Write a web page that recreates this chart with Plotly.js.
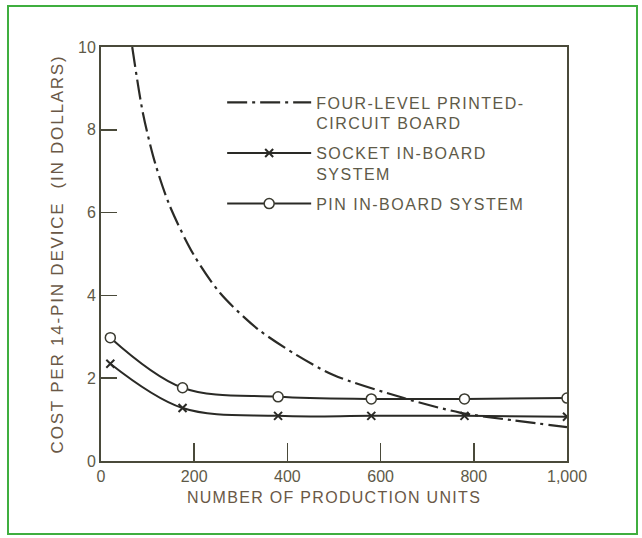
<!DOCTYPE html>
<html>
<head>
<meta charset="utf-8">
<script src="https://cdn.plot.ly/plotly-3.0.1.min.js"></script>
<style>
  html, body { margin: 0; padding: 0; background: #ffffff; }
  #frame { position: absolute; left: 7px; top: 5px; width: 631px; height: 530px; border: 2px solid #3fae3f; box-sizing: border-box; pointer-events: none; z-index: 5; }
  #chart { position: absolute; left: 0; top: 0; width: 642px; height: 538px; }
  .xtitle { letter-spacing: 1.3px; }
  .ytitle { letter-spacing: 1.8px; }
  .legendtext { letter-spacing: 1.5px; }
</style>
</head>
<body>
<div id="chart"></div>
<div id="frame"></div>
<script>
// Data
const pcbUnits   = [67, 90, 116, 148, 198, 256, 335, 421, 500, 650, 770, 886, 1000];
const pcbCost    = [10, 8.4, 7.2, 6.15, 5.0, 4.05, 3.2, 2.55, 2.07, 1.52, 1.17, 0.98, 0.82];

const socketUnits = [20, 175, 380, 580, 780, 1000];
const socketCost  = [2.35, 1.28, 1.09, 1.09, 1.09, 1.07];

const pinUnits = [20, 175, 380, 580, 780, 1000];
const pinCost  = [2.98, 1.77, 1.55, 1.50, 1.50, 1.52];

const xTickVals = [0, 200, 400, 600, 800, 1000];
const xTickText = ["0", "200", "400", "600", "800", "1,000"];
const yTickVals = [0, 2, 4, 6, 8, 10];

const seriesNames = [
  "FOUR-LEVEL PRINTED-<br>CIRCUIT BOARD",
  "SOCKET IN-BOARD<br>SYSTEM",
  "PIN IN-BOARD SYSTEM"
];

const ink = "#2a2a26";
const axisInk = "#4a4a3a";
const labelInk = "#5e5a48";
const titleInk = "#6a5846";

const traces = [
  {
    x: pcbUnits, y: pcbCost, name: seriesNames[0], mode: "lines",
    line: { color: ink, width: 2.2, shape: "spline", smoothing: 0.8, dash: "20px,5px,3px,5px" },
    legendgroup: "a"
  },
  {
    x: socketUnits, y: socketCost, name: seriesNames[1], mode: "lines+markers",
    line: { color: ink, width: 2, shape: "spline" },
    marker: { symbol: "x-thin", size: 8, line: { color: ink, width: 2 }, color: ink },
    legendgroup: "b"
  },
  {
    x: pinUnits, y: pinCost, name: seriesNames[2], mode: "lines+markers",
    line: { color: ink, width: 2, shape: "spline" },
    marker: { symbol: "circle", size: 10, color: "#ffffff", line: { color: "#3a3a30", width: 1.5 } },
    legendgroup: "c"
  }
];

const layout = {
  width: 642, height: 538,
  margin: { l: 101, r: 75, t: 47, b: 77 },
  paper_bgcolor: "#ffffff", plot_bgcolor: "#ffffff",
  font: { family: "Liberation Sans, Arial, sans-serif", color: labelInk },
  showlegend: true,
  legend: {
    x: 0.26, y: 0.907, xanchor: "left", yanchor: "top",
    bgcolor: "rgba(0,0,0,0)", borderwidth: 0,
    font: { size: 16, color: labelInk },
    itemwidth: 84, valign: "top", tracegroupgap: 6, traceorder: "grouped"
  },
  xaxis: {
    range: [0, 1000], tickmode: "array", tickvals: xTickVals, ticktext: xTickText,
    ticks: "inside", ticklen: 18, tickwidth: 1.5, tickcolor: axisInk,
    showline: true, linecolor: axisInk, linewidth: 2, mirror: true,
    showgrid: false, zeroline: false,
    tickfont: { size: 16, color: labelInk },
    title: { text: "NUMBER OF PRODUCTION UNITS", font: { size: 16, color: titleInk }, standoff: 8 }
  },
  yaxis: {
    range: [0, 10], tickmode: "array", tickvals: yTickVals,
    ticks: "inside", ticklen: 16, tickwidth: 1.5, tickcolor: axisInk,
    showline: true, linecolor: axisInk, linewidth: 2, mirror: true,
    showgrid: false, zeroline: false,
    tickfont: { size: 16, color: labelInk },
    title: { text: "COST PER 14-PIN DEVICE  (IN DOLLARS)", font: { size: 17, color: titleInk }, standoff: 10 }
  }
};

Plotly.newPlot("chart", traces, layout, { staticPlot: true, displayModeBar: false });
</script>
</body>
</html>
